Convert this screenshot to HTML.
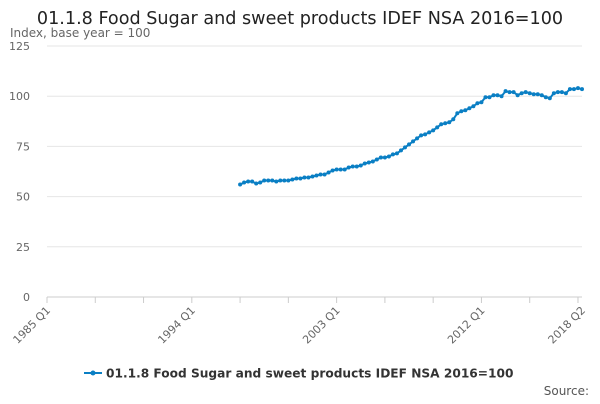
<!DOCTYPE html>
<html><head><meta charset="utf-8"><style>
body{margin:0;background:#fff;font-family:"DejaVu Sans","Liberation Sans",sans-serif}
svg text{font-family:"DejaVu Sans","Liberation Sans",sans-serif}
</style></head><body>
<svg id="c" width="600" height="400">
<text x="300" y="24" text-anchor="middle" font-size="17.6" fill="#222">01.1.8 Food Sugar and sweet products IDEF NSA 2016=100</text>
<text x="10" y="37" font-size="12" fill="#666">Index, base year = 100</text>
<g id="grid"></g><g id="xa"></g><g id="series"></g>
<g>
<line x1="84" y1="373" x2="102" y2="373" stroke="#0a7fc4" stroke-width="2"/>
<circle cx="93" cy="373" r="2.5" fill="#0a7fc4"/>
<text x="106" y="377.5" font-size="12.2" font-weight="bold" fill="#333">01.1.8 Food Sugar and sweet products IDEF NSA 2016=100</text>
</g>
<text x="589" y="395" text-anchor="end" font-size="12" fill="#555">Source:</text>
</svg>
<script>
const yTicks=[0,25,50,75,100,125];
const xTickLabels=["1985 Q1","1994 Q1","2003 Q1","2012 Q1","2018 Q2"];
const xTickIdx=[0,36,72,108,133];
const startIdx=48;
const values=[56,57,57.5,57.5,56.5,57,58,58,58,57.5,58,58,58,58.5,59,59,59.5,59.5,60,60.5,61,61,62,63,63.5,63.5,63.5,64.5,65,65,65.5,66.5,67,67.5,68.5,69.5,69.5,70,71,71.5,73,74.5,76,77.5,79,80.5,81,82,83,84.5,86,86.5,87,88.5,91.5,92.5,93,94,95,96.5,97,99.5,99.5,100.5,100.5,100,102.5,102,102,100.5,101.5,102,101.5,101,101,100.5,99.5,99,101.5,102,102,101.5,103.5,103.5,104,103.5];
const NS="http://www.w3.org/2000/svg";
const x0=47,x1=582,yb=297,yt=46,nQ=133;
const X=i=>x0+(x1-x0)*i/nQ, Y=v=>yb-(yb-yt)*v/125;
const grid=document.getElementById('grid');
yTicks.forEach(t=>{
 const l=document.createElementNS(NS,'line');
 
 
 l.setAttribute('x1',x0);l.setAttribute('x2',x1);l.setAttribute('y1',Y(t));l.setAttribute('y2',Y(t));
 l.setAttribute('stroke',t===0?'#ccc':'#e6e6e6');grid.appendChild(l);
 const tx=document.createElementNS(NS,'text');
 
 
 tx.setAttribute('x',30);tx.setAttribute('y',Y(t)+4);tx.setAttribute('text-anchor','end');
 tx.setAttribute('font-size','11');tx.setAttribute('fill','#666');tx.textContent=t;grid.appendChild(tx);
});
const xa=document.getElementById('xa');
for(let i=0;i<=nQ;i+=12){
 const l=document.createElementNS(NS,'line');
 
 
 l.setAttribute('x1',X(i));l.setAttribute('x2',X(i));l.setAttribute('y1',yb);l.setAttribute('y2',yb+6);
 l.setAttribute('stroke','#ccc');xa.appendChild(l);
}
xTickLabels.forEach((s,k)=>{
 const tx=document.createElementNS(NS,'text');
 
 
 const x=X(xTickIdx[k])+4,y=yb+14;
 tx.setAttribute('x',x);tx.setAttribute('y',y);tx.setAttribute('text-anchor','end');
 tx.setAttribute('transform','rotate(-45 '+x+' '+y+')');
 tx.setAttribute('font-size','11');tx.setAttribute('fill','#666');tx.textContent=s;xa.appendChild(tx);
});
const g=document.getElementById('series');
const p=document.createElementNS(NS,'polyline');


p.setAttribute('points',values.map((v,i)=>X(startIdx+i)+','+Y(v)).join(' '));
p.setAttribute('fill','none');p.setAttribute('stroke','#0a7fc4');p.setAttribute('stroke-width','2');g.appendChild(p);
values.forEach((v,i)=>{
 const c=document.createElementNS(NS,'circle');
 
 
 c.setAttribute('cx',X(startIdx+i));c.setAttribute('cy',Y(v));c.setAttribute('r','2');c.setAttribute('fill','#0a7fc4');g.appendChild(c);
});
</script>
</body></html>
